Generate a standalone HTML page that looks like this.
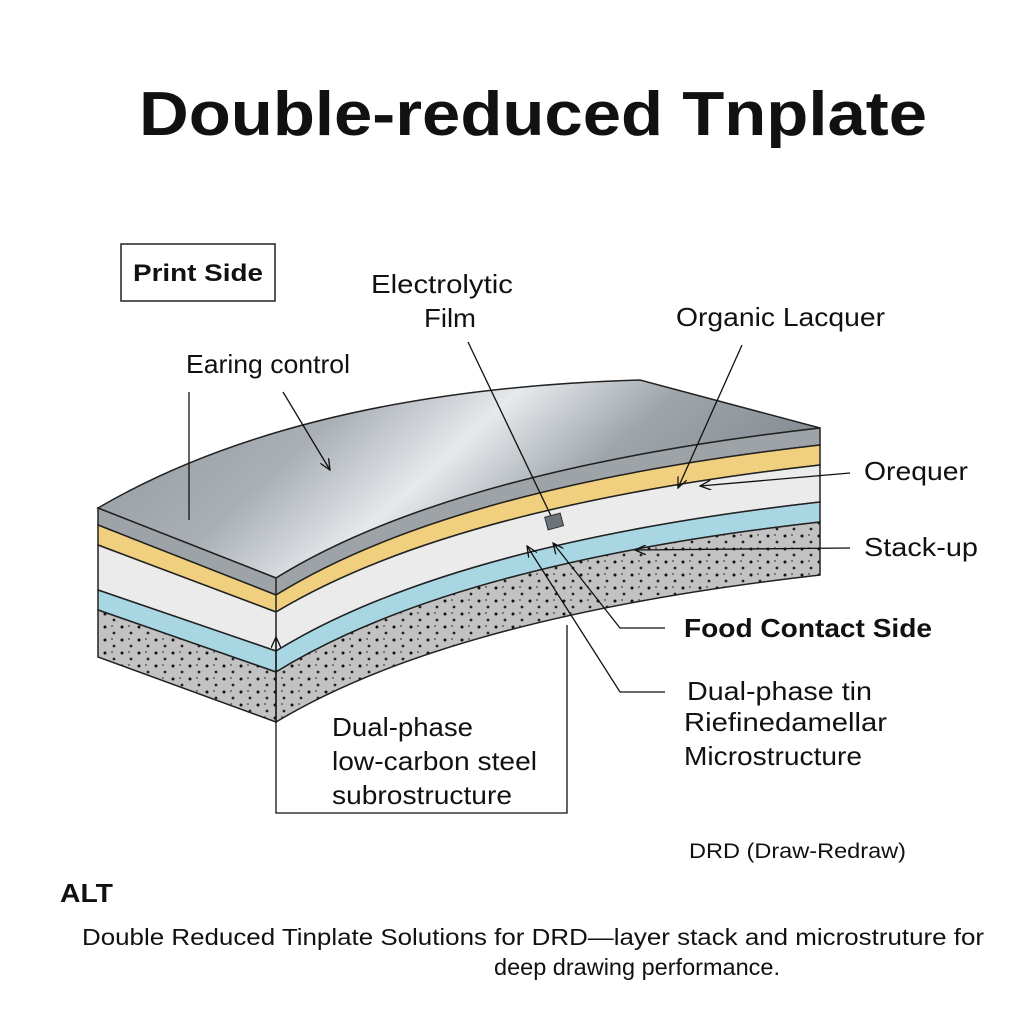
<!DOCTYPE html>
<html><head><meta charset="utf-8"><style>html,body{margin:0;padding:0;background:#fff}svg{display:block}</style></head>
<body>
<svg width="1024" height="1024" viewBox="0 0 1024 1024" xmlns="http://www.w3.org/2000/svg" font-family="Liberation Sans, sans-serif">
<defs>
<linearGradient id="top" x1="0" y1="0" x2="1" y2="0.3">
<stop offset="0" stop-color="#8f969d"/><stop offset="0.35" stop-color="#a9afb5"/><stop offset="0.55" stop-color="#e6e9ec"/><stop offset="0.75" stop-color="#9ea5ab"/><stop offset="1" stop-color="#858c93"/>
</linearGradient>
<pattern id="dots" width="17" height="13" patternUnits="userSpaceOnUse">
<rect width="17" height="13" fill="#c2c2c2"/>
<circle cx="3" cy="3" r="1.5" fill="#111"/><circle cx="12" cy="9" r="1.4" fill="#222"/><circle cx="10" cy="2" r="0.9" fill="#444"/>
</pattern>
<marker id="ar" markerWidth="12" markerHeight="10" refX="11" refY="5" orient="auto" markerUnits="userSpaceOnUse"><path d="M0,0 L11,5 L0,10" fill="none" stroke="#111" stroke-width="1.3"/></marker>
</defs>
<rect width="1024" height="1024" fill="#fff"/>
<text x="533" y="135" font-size="62" font-weight="bold" text-anchor="middle" textLength="788" lengthAdjust="spacingAndGlyphs" fill="#111">Double-reduced Tnplate</text>

<path d="M98,508 Q300,390 640,380 L820,428 Q450,470 276,578 Z" fill="url(#top)" stroke="#222" stroke-width="1.5"/>
<path d="M98,508 L276,578 Q450,470 820,428 L820,445 Q450,487 276,595 L98,525 Z" fill="#9ea3a8" stroke="#222" stroke-width="1.5"/>
<path d="M98,525 L276,595 Q450,487 820,445 L820,465 Q450,507 276,612 L98,545 Z" fill="#f0cf7e" stroke="#222" stroke-width="1.5"/>
<path d="M98,545 L276,612 Q450,507 820,465 L820,502 Q450,544 276,651 L98,590 Z" fill="#ebebeb" stroke="#222" stroke-width="1.5"/>
<path d="M98,590 L276,651 Q450,544 820,502 L820,522 Q450,564 276,672 L98,610 Z" fill="#a8d6e2" stroke="#222" stroke-width="1.5"/>
<path d="M98,610 L276,672 Q450,564 820,522 L820,575 Q450,617 276,722 L98,657 Z" fill="url(#dots)" stroke="#222" stroke-width="1.5"/>
<line x1="276" y1="578" x2="276" y2="722" stroke="#222" stroke-width="1.5"/>

<rect x="121" y="244" width="154" height="57" fill="#fff" stroke="#222" stroke-width="1.5"/>
<text x="133" y="281" font-size="24" font-weight="bold" textLength="130" lengthAdjust="spacingAndGlyphs" fill="#111">Print Side</text>

<g font-size="26" fill="#111" lengthAdjust="spacingAndGlyphs">
<text x="186" y="373" textLength="164" lengthAdjust="spacingAndGlyphs">Earing control</text>
<text x="371" y="293" textLength="142" lengthAdjust="spacingAndGlyphs">Electrolytic</text>
<text x="424" y="327" textLength="52" lengthAdjust="spacingAndGlyphs">Film</text>
<text x="676" y="326" textLength="209" lengthAdjust="spacingAndGlyphs">Organic Lacquer</text>
<text x="864" y="480" textLength="104" lengthAdjust="spacingAndGlyphs">Orequer</text>
<text x="864" y="556" textLength="114" lengthAdjust="spacingAndGlyphs">Stack-up</text>
<text x="684" y="637" font-weight="bold" textLength="248" lengthAdjust="spacingAndGlyphs">Food Contact Side</text>
<text x="687" y="700" textLength="185" lengthAdjust="spacingAndGlyphs">Dual-phase tin</text>
<text x="684" y="731" textLength="203" lengthAdjust="spacingAndGlyphs">Riefinedamellar</text>
<text x="684" y="765" textLength="178" lengthAdjust="spacingAndGlyphs">Microstructure</text>
<text x="332" y="736" textLength="141" lengthAdjust="spacingAndGlyphs">Dual-phase</text>
<text x="332" y="770" textLength="205" lengthAdjust="spacingAndGlyphs">low-carbon steel</text>
<text x="332" y="804" textLength="180" lengthAdjust="spacingAndGlyphs">subrostructure</text>
<text x="689" y="858" font-size="21" textLength="217" lengthAdjust="spacingAndGlyphs">DRD (Draw-Redraw)</text>
<text x="60" y="902" font-weight="bold" textLength="53" lengthAdjust="spacingAndGlyphs">ALT</text>
<text x="82" y="945" font-size="23" textLength="902" lengthAdjust="spacingAndGlyphs">Double Reduced Tinplate  Solutions for   DRD—layer stack and microstruture for</text>
<text x="494" y="975" font-size="23" textLength="286" lengthAdjust="spacingAndGlyphs">deep drawing performance.</text>
</g>

<g stroke="#111" stroke-width="1.3" fill="none">
<line x1="189" y1="392" x2="189" y2="520"/>
<line x1="283" y1="392" x2="330" y2="470" marker-end="url(#ar)"/>
<line x1="468" y1="342" x2="552" y2="518"/>
<line x1="742" y1="345" x2="678" y2="488" marker-end="url(#ar)"/>
<line x1="850" y1="473" x2="700" y2="486" marker-end="url(#ar)"/>
<line x1="850" y1="548" x2="635" y2="550" marker-end="url(#ar)"/>
<polyline points="665,628 620,628 553,543" marker-end="url(#ar)"/>
<polyline points="665,692 620,692 527,546" marker-end="url(#ar)"/>
<polyline points="567,625 567,813 276,813 276,637" marker-end="url(#ar)"/>
</g>
<rect x="546" y="515" width="16" height="13" fill="#6c737a" stroke="#333" transform="rotate(-15 554 521)"/>
</svg>
</body></html>
